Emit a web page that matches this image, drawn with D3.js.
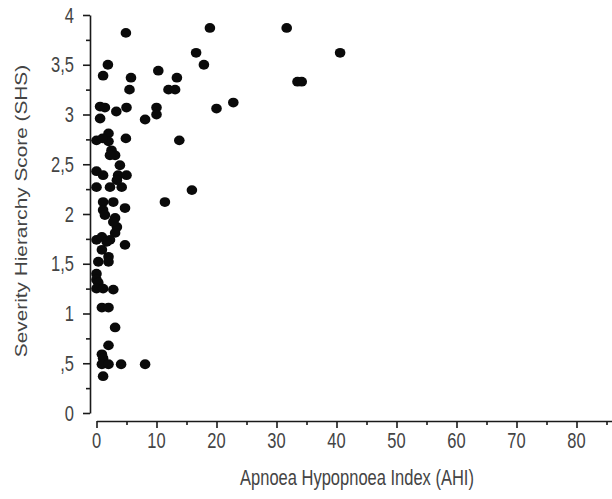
<!DOCTYPE html>
<html>
<head>
<meta charset="utf-8">
<script src="https://cdn.jsdelivr.net/npm/d3@7"></script>
<style>
  html, body { margin: 0; padding: 0; background: #fff; }
  svg { display: block; }
</style>
</head>
<body>
<svg id="chart" width="612" height="499"></svg>
<script>
// ---- data ----
const ahi = [
  4.9, 18.9, 31.7, 40.6, 16.6, 17.9, 10.3, 13.4, 12.0, 13.1,
  33.5, 34.2, 10.0, 10.0, 20.0, 22.8, 8.1, 1.9, 1.1, 5.75,
  5.5, 0.6, 1.4, 0.6, 3.3, 5.0,
  13.8, 0, 2.0, 2.0, 4.9, 2.5, 3.1, 2.25, 1.0, 3.9,
  0, 1.1, 3.6, 5.0, 0, 2.25, 4.2, 15.9, 11.4, 1.1, 2.8, 4.75, 3.4, 1.1,
  1.4, 3.1, 3.4, 3.1, 0, 0.9, 2.25, 4.75, 0.9, 2.0, 0.3, 2.0, 1.7, 2.8,
  0, 0, 0.3, 0, 1.1, 2.8, 0.9, 2.0,
  3.1, 2.0, 0.9, 1.1, 0.9, 2.0, 4.1, 8.1, 1.1
];
const shs = [
  3.82, 3.87, 3.87, 3.62, 3.62, 3.50, 3.44, 3.37, 3.25, 3.25,
  3.33, 3.33, 3.07, 3.00, 3.06, 3.12, 2.95, 3.50, 3.39, 3.37,
  3.25, 3.08, 3.07, 2.96, 3.03, 3.07,
  2.74, 2.74, 2.81, 2.73, 2.76, 2.64, 2.59, 2.59, 2.76, 2.49,
  2.43, 2.39, 2.39, 2.39, 2.27, 2.27, 2.27, 2.24, 2.12, 2.12, 2.12, 2.06, 2.34, 2.04,
  1.99, 1.96, 1.87, 1.81, 1.74, 1.77, 1.74, 1.69, 1.64, 1.57, 1.52, 1.52, 1.72, 1.92,
  1.40, 1.34, 1.31, 1.25, 1.25, 1.24, 1.06, 1.06,
  0.86, 0.68, 0.59, 0.55, 0.49, 0.49, 0.49, 0.49, 0.37
];
const xMajorTicks = [0, 10, 20, 30, 40, 50, 60, 70, 80];
const xTickLabels = ["0", "10", "20", "30", "40", "50", "60", "70", "80"];
const xMinorTicks = [5, 15, 25, 35, 45, 55, 65, 75, 85];
const yMajorTicks = [0, 0.5, 1, 1.5, 2, 2.5, 3, 3.5, 4];
const yTickLabels = ["0", ",5", "1", "1,5", "2", "2,5", "3", "3,5", "4"];
const yMinorTicks = [0.25, 0.75, 1.25, 1.75, 2.25, 2.75, 3.25, 3.75];
const xTitle = "Apnoea Hypopnoea Index (AHI)";
const yTitle = "Severity Hierarchy Score (SHS)";

// ---- chart ----
const svg = d3.select("#chart");
const x = d3.scaleLinear().domain([0, 90]).range([96.5, 636.5]);
const y = d3.scaleLinear().domain([0, 4]).range([413, 15]);
const axisColor = "#1a1a1a";
const textColor = "#444444";
const stretch = 1.3;

// y axis
const yAxisX = 90;
const gy = svg.append("g").attr("transform", `translate(${yAxisX},0)`);
gy.call(d3.axisLeft(y).tickValues(yMajorTicks).tickSize(7).tickSizeOuter(0).tickFormat(""));
gy.append("g").call(d3.axisLeft(y).tickValues(yMinorTicks).tickSize(4).tickSizeOuter(0).tickFormat(""))
  .select(".domain").remove();
gy.selectAll("path, line").attr("stroke", axisColor).attr("stroke-width", 1.6);

// x axis
const xAxisY = 421;
const gx = svg.append("g").attr("transform", `translate(0,${xAxisY})`);
gx.call(d3.axisBottom(x).tickValues(xMajorTicks).tickSize(7).tickSizeOuter(0).tickFormat(""));
gx.append("g").call(d3.axisBottom(x).tickValues(xMinorTicks).tickSize(4).tickSizeOuter(0).tickFormat(""))
  .select(".domain").remove();
gx.selectAll("path, line").attr("stroke", axisColor).attr("stroke-width", 1.6);

// tick labels
const labelFont = "'Liberation Sans', Arial, sans-serif";
svg.append("g").selectAll("text").data(yMajorTicks).join("text")
  .attr("transform", d => `translate(74,${y(d)}) scale(1,${stretch})`)
  .attr("text-anchor", "end")
  .attr("dy", "0.36em")
  .attr("font-family", labelFont)
  .attr("font-size", 16.5)
  .attr("fill", textColor)
  .text((d, i) => yTickLabels[i]);

svg.append("g").selectAll("text").data(xMajorTicks).join("text")
  .attr("transform", d => `translate(${x(d)},448) scale(1,${stretch})`)
  .attr("text-anchor", "middle")
  .attr("font-family", labelFont)
  .attr("font-size", 16.5)
  .attr("fill", textColor)
  .text((d, i) => xTickLabels[i]);

// titles
svg.append("text")
  .attr("transform", `translate(357,485) scale(1,${stretch})`)
  .attr("text-anchor", "middle")
  .attr("font-family", labelFont)
  .attr("font-size", 16.5)
  .attr("fill", textColor)
  .text(xTitle);

svg.append("text")
  .attr("transform", `translate(27,211) scale(1,${stretch}) rotate(-90)`)
  .attr("text-anchor", "middle")
  .attr("font-family", labelFont)
  .attr("font-size", 16)
  .attr("fill", textColor)
  .text(yTitle);

// points
const pts = ahi.map((a, i) => ({ a, s: shs[i] }));
svg.append("g").selectAll("ellipse").data(pts).join("ellipse")
  .attr("cx", d => x(d.a))
  .attr("cy", d => y(d.s))
  .attr("rx", 5.3)
  .attr("ry", 4.9)
  .attr("fill", "#0a0a0a");
</script>
</body>
</html>
